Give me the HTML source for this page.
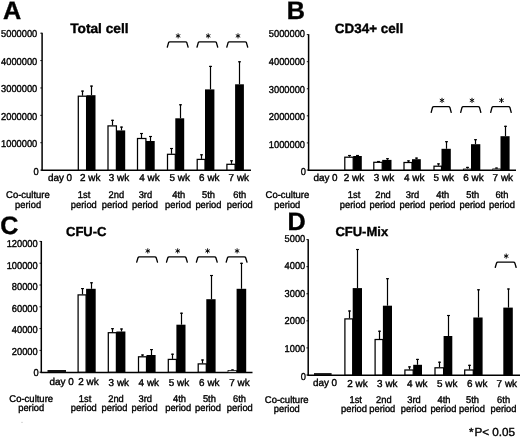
<!DOCTYPE html>
<html><head><meta charset="utf-8"><title>Figure</title>
<style>
html,body{margin:0;padding:0;background:#fff;}
body{width:520px;height:437px;overflow:hidden;}
svg{display:block;filter:grayscale(1);font-family:"Liberation Sans",sans-serif;fill:#000;}
text{stroke:#000;stroke-width:0.38px;text-rendering:geometricPrecision;}
</style></head><body>
<svg width="520" height="437" viewBox="0 0 520 437">
<g>
<rect x="0" y="0" width="520" height="437" fill="#fff"/>
<line x1="42.10" y1="32.80" x2="42.10" y2="170.70" stroke="#000" stroke-width="1.5"/>
<line x1="41.40" y1="170.30" x2="251.00" y2="170.30" stroke="#000" stroke-width="1.5"/>
<line x1="40.30" y1="33.20" x2="42.00" y2="33.20" stroke="#000" stroke-width="0.9"/>
<text transform="translate(37.30,36.98) scale(0.9300,1)" font-size="10.0" text-anchor="end" font-weight="normal" >5000000</text>
<line x1="40.30" y1="60.58" x2="42.00" y2="60.58" stroke="#000" stroke-width="0.9"/>
<text transform="translate(37.30,64.60) scale(0.9300,1)" font-size="10.0" text-anchor="end" font-weight="normal" >4000000</text>
<line x1="40.30" y1="87.96" x2="42.00" y2="87.96" stroke="#000" stroke-width="0.9"/>
<text transform="translate(37.30,92.22) scale(0.9300,1)" font-size="10.0" text-anchor="end" font-weight="normal" >3000000</text>
<line x1="40.30" y1="115.34" x2="42.00" y2="115.34" stroke="#000" stroke-width="0.9"/>
<text transform="translate(37.30,119.84) scale(0.9300,1)" font-size="10.0" text-anchor="end" font-weight="normal" >2000000</text>
<line x1="40.30" y1="142.72" x2="42.00" y2="142.72" stroke="#000" stroke-width="0.9"/>
<text transform="translate(37.30,147.46) scale(0.9300,1)" font-size="10.0" text-anchor="end" font-weight="normal" >1000000</text>
<line x1="40.30" y1="170.10" x2="42.00" y2="170.10" stroke="#000" stroke-width="0.9"/>
<text transform="translate(38.60,175.08) scale(0.9300,1)" font-size="10.0" text-anchor="end" font-weight="normal" >0</text>
<text x="70.20" y="33.40" font-size="13.7" text-anchor="start" font-weight="bold" >Total cell</text>
<text x="3.10" y="18.50" font-size="25.2" text-anchor="start" font-weight="bold" >A</text>
<line x1="82.50" y1="90.60" x2="82.50" y2="95.70" stroke="#000" stroke-width="1.2"/>
<line x1="81.05" y1="91.10" x2="83.95" y2="91.10" stroke="#000" stroke-width="1.15"/>
<rect x="78.30" y="96.20" width="8.30" height="73.90" fill="#fff" stroke="#000" stroke-width="1.25"/>
<line x1="91.50" y1="85.60" x2="91.50" y2="95.20" stroke="#000" stroke-width="1.2"/>
<line x1="90.05" y1="86.10" x2="92.95" y2="86.10" stroke="#000" stroke-width="1.15"/>
<rect x="86.60" y="95.20" width="8.90" height="74.90" fill="#000"/>
<line x1="112.50" y1="119.80" x2="112.50" y2="125.40" stroke="#000" stroke-width="1.2"/>
<line x1="111.05" y1="120.30" x2="113.95" y2="120.30" stroke="#000" stroke-width="1.15"/>
<rect x="108.00" y="125.90" width="8.40" height="44.20" fill="#fff" stroke="#000" stroke-width="1.25"/>
<line x1="121.50" y1="126.60" x2="121.50" y2="130.40" stroke="#000" stroke-width="1.2"/>
<line x1="120.05" y1="127.10" x2="122.95" y2="127.10" stroke="#000" stroke-width="1.15"/>
<rect x="116.40" y="130.40" width="8.80" height="39.70" fill="#000"/>
<line x1="141.50" y1="133.00" x2="141.50" y2="138.00" stroke="#000" stroke-width="1.2"/>
<line x1="140.05" y1="133.50" x2="142.95" y2="133.50" stroke="#000" stroke-width="1.15"/>
<rect x="137.50" y="138.50" width="8.40" height="31.60" fill="#fff" stroke="#000" stroke-width="1.25"/>
<line x1="150.50" y1="136.00" x2="150.50" y2="141.00" stroke="#000" stroke-width="1.2"/>
<line x1="149.05" y1="136.50" x2="151.95" y2="136.50" stroke="#000" stroke-width="1.15"/>
<rect x="145.90" y="141.00" width="8.80" height="29.10" fill="#000"/>
<line x1="171.50" y1="148.00" x2="171.50" y2="153.80" stroke="#000" stroke-width="1.2"/>
<line x1="170.05" y1="148.50" x2="172.95" y2="148.50" stroke="#000" stroke-width="1.15"/>
<rect x="167.50" y="154.30" width="7.80" height="15.80" fill="#fff" stroke="#000" stroke-width="1.25"/>
<line x1="180.50" y1="104.30" x2="180.50" y2="118.30" stroke="#000" stroke-width="1.2"/>
<line x1="179.05" y1="104.80" x2="181.95" y2="104.80" stroke="#000" stroke-width="1.15"/>
<rect x="175.30" y="118.30" width="8.90" height="51.80" fill="#000"/>
<line x1="201.50" y1="154.30" x2="201.50" y2="158.90" stroke="#000" stroke-width="1.2"/>
<line x1="200.05" y1="154.80" x2="202.95" y2="154.80" stroke="#000" stroke-width="1.15"/>
<rect x="197.20" y="159.40" width="7.80" height="10.70" fill="#fff" stroke="#000" stroke-width="1.25"/>
<line x1="210.50" y1="65.90" x2="210.50" y2="89.40" stroke="#000" stroke-width="1.2"/>
<line x1="209.05" y1="66.40" x2="211.95" y2="66.40" stroke="#000" stroke-width="1.15"/>
<rect x="205.00" y="89.40" width="9.40" height="80.70" fill="#000"/>
<line x1="231.50" y1="160.30" x2="231.50" y2="163.80" stroke="#000" stroke-width="1.2"/>
<line x1="230.05" y1="160.80" x2="232.95" y2="160.80" stroke="#000" stroke-width="1.15"/>
<rect x="226.90" y="164.30" width="8.20" height="5.80" fill="#fff" stroke="#000" stroke-width="1.25"/>
<line x1="239.50" y1="61.30" x2="239.50" y2="84.30" stroke="#000" stroke-width="1.2"/>
<line x1="238.05" y1="61.80" x2="240.95" y2="61.80" stroke="#000" stroke-width="1.15"/>
<rect x="235.10" y="84.30" width="8.80" height="85.80" fill="#000"/>
<path d="M167.30,47.10 L168.60,42.60 Q168.90,41.80 169.90,41.80 L185.50,41.80 Q186.50,41.80 186.80,42.60 L188.10,47.10" fill="none" stroke="#000" stroke-width="1.35" stroke-linecap="round"/>
<path d="M197.00,47.10 L198.30,42.60 Q198.60,41.80 199.60,41.80 L215.10,41.80 Q216.10,41.80 216.40,42.60 L217.70,47.10" fill="none" stroke="#000" stroke-width="1.35" stroke-linecap="round"/>
<path d="M226.80,47.10 L228.10,42.60 Q228.40,41.80 229.40,41.80 L245.10,41.80 Q246.10,41.80 246.40,42.60 L247.70,47.10" fill="none" stroke="#000" stroke-width="1.35" stroke-linecap="round"/>
<path d="M178.10,33.35L178.10,38.45 M175.89,34.62L180.31,37.17 M180.31,34.62L175.89,37.17" fill="none" stroke="#000" stroke-width="0.95"/>
<path d="M208.20,33.35L208.20,38.45 M205.99,34.62L210.41,37.17 M210.41,34.62L205.99,37.17" fill="none" stroke="#000" stroke-width="0.95"/>
<path d="M238.00,33.35L238.00,38.45 M235.79,34.62L240.21,37.17 M240.21,34.62L235.79,37.17" fill="none" stroke="#000" stroke-width="0.95"/>
<text transform="translate(60.00,180.50) scale(0.9900,1)" font-size="10.0" text-anchor="middle" font-weight="normal" >day 0</text>
<text transform="translate(90.20,180.50) scale(0.9900,1)" font-size="10.0" text-anchor="middle" font-weight="normal" >2 wk</text>
<text transform="translate(119.00,180.50) scale(0.9900,1)" font-size="10.0" text-anchor="middle" font-weight="normal" >3 wk</text>
<text transform="translate(149.40,180.50) scale(0.9900,1)" font-size="10.0" text-anchor="middle" font-weight="normal" >4 wk</text>
<text transform="translate(179.70,180.50) scale(0.9900,1)" font-size="10.0" text-anchor="middle" font-weight="normal" >5 wk</text>
<text transform="translate(209.30,180.50) scale(0.9900,1)" font-size="10.0" text-anchor="middle" font-weight="normal" >6 wk</text>
<text transform="translate(238.80,180.50) scale(0.9900,1)" font-size="10.0" text-anchor="middle" font-weight="normal" >7 wk</text>
<text transform="translate(27.90,197.90) scale(0.9680,1)" font-size="9.8" text-anchor="middle" font-weight="normal" >Co-culture</text>
<text transform="translate(28.10,207.70) scale(0.9540,1)" font-size="9.8" text-anchor="middle" font-weight="normal" >period</text>
<text transform="translate(84.10,197.90) scale(0.9540,1)" font-size="9.8" text-anchor="middle" font-weight="normal" >1st</text>
<text transform="translate(83.80,207.70) scale(0.9540,1)" font-size="9.8" text-anchor="middle" font-weight="normal" >period</text>
<text transform="translate(116.30,197.90) scale(0.9540,1)" font-size="9.8" text-anchor="middle" font-weight="normal" >2nd</text>
<text transform="translate(114.80,207.70) scale(0.9540,1)" font-size="9.8" text-anchor="middle" font-weight="normal" >period</text>
<text transform="translate(145.40,197.90) scale(0.9540,1)" font-size="9.8" text-anchor="middle" font-weight="normal" >3rd</text>
<text transform="translate(145.00,207.70) scale(0.9540,1)" font-size="9.8" text-anchor="middle" font-weight="normal" >period</text>
<text transform="translate(178.80,197.90) scale(0.9540,1)" font-size="9.8" text-anchor="middle" font-weight="normal" >4th</text>
<text transform="translate(178.10,207.70) scale(0.9540,1)" font-size="9.8" text-anchor="middle" font-weight="normal" >period</text>
<text transform="translate(208.50,197.90) scale(0.9540,1)" font-size="9.8" text-anchor="middle" font-weight="normal" >5th</text>
<text transform="translate(208.40,207.70) scale(0.9540,1)" font-size="9.8" text-anchor="middle" font-weight="normal" >period</text>
<text transform="translate(239.80,197.90) scale(0.9540,1)" font-size="9.8" text-anchor="middle" font-weight="normal" >6th</text>
<text transform="translate(239.80,207.70) scale(0.9540,1)" font-size="9.8" text-anchor="middle" font-weight="normal" >period</text>
<line x1="308.60" y1="34.20" x2="308.60" y2="170.60" stroke="#000" stroke-width="1.5"/>
<line x1="307.90" y1="170.20" x2="516.00" y2="170.20" stroke="#000" stroke-width="1.5"/>
<line x1="306.80" y1="34.60" x2="308.50" y2="34.60" stroke="#000" stroke-width="0.9"/>
<text transform="translate(305.00,37.28) scale(0.9300,1)" font-size="10.0" text-anchor="end" font-weight="normal" >5000000</text>
<line x1="306.80" y1="61.68" x2="308.50" y2="61.68" stroke="#000" stroke-width="0.9"/>
<text transform="translate(305.00,64.90) scale(0.9300,1)" font-size="10.0" text-anchor="end" font-weight="normal" >4000000</text>
<line x1="306.80" y1="88.76" x2="308.50" y2="88.76" stroke="#000" stroke-width="0.9"/>
<text transform="translate(305.00,92.52) scale(0.9300,1)" font-size="10.0" text-anchor="end" font-weight="normal" >3000000</text>
<line x1="306.80" y1="115.84" x2="308.50" y2="115.84" stroke="#000" stroke-width="0.9"/>
<text transform="translate(305.00,120.14) scale(0.9300,1)" font-size="10.0" text-anchor="end" font-weight="normal" >2000000</text>
<line x1="306.80" y1="142.92" x2="308.50" y2="142.92" stroke="#000" stroke-width="0.9"/>
<text transform="translate(305.00,147.76) scale(0.9300,1)" font-size="10.0" text-anchor="end" font-weight="normal" >1000000</text>
<line x1="306.80" y1="170.00" x2="308.50" y2="170.00" stroke="#000" stroke-width="0.9"/>
<text transform="translate(306.00,175.38) scale(0.9300,1)" font-size="10.0" text-anchor="end" font-weight="normal" >0</text>
<text x="334.80" y="33.10" font-size="13.45" text-anchor="start" font-weight="bold" >CD34+ cell</text>
<text x="286.80" y="19.00" font-size="25.2" text-anchor="start" font-weight="bold" >B</text>
<line x1="349.50" y1="155.00" x2="349.50" y2="156.70" stroke="#000" stroke-width="1.2"/>
<line x1="348.05" y1="155.50" x2="350.95" y2="155.50" stroke="#000" stroke-width="1.15"/>
<rect x="344.80" y="157.20" width="8.40" height="12.80" fill="#fff" stroke="#000" stroke-width="1.25"/>
<line x1="357.50" y1="155.00" x2="357.50" y2="156.00" stroke="#000" stroke-width="1.2"/>
<line x1="356.05" y1="155.50" x2="358.95" y2="155.50" stroke="#000" stroke-width="1.15"/>
<rect x="353.20" y="156.00" width="8.60" height="14.00" fill="#000"/>
<line x1="378.50" y1="161.00" x2="378.50" y2="161.80" stroke="#000" stroke-width="1.2"/>
<line x1="377.05" y1="161.50" x2="379.95" y2="161.50" stroke="#000" stroke-width="1.15"/>
<rect x="373.80" y="162.30" width="8.40" height="7.70" fill="#fff" stroke="#000" stroke-width="1.25"/>
<line x1="387.50" y1="158.20" x2="387.50" y2="159.90" stroke="#000" stroke-width="1.2"/>
<line x1="386.05" y1="158.70" x2="388.95" y2="158.70" stroke="#000" stroke-width="1.15"/>
<rect x="382.20" y="159.90" width="9.30" height="10.10" fill="#000"/>
<line x1="408.50" y1="160.40" x2="408.50" y2="162.00" stroke="#000" stroke-width="1.2"/>
<line x1="407.05" y1="160.90" x2="409.95" y2="160.90" stroke="#000" stroke-width="1.15"/>
<rect x="404.00" y="162.50" width="8.00" height="7.50" fill="#fff" stroke="#000" stroke-width="1.25"/>
<line x1="416.50" y1="157.60" x2="416.50" y2="159.20" stroke="#000" stroke-width="1.2"/>
<line x1="415.05" y1="158.10" x2="417.95" y2="158.10" stroke="#000" stroke-width="1.15"/>
<rect x="412.00" y="159.20" width="8.80" height="10.80" fill="#000"/>
<line x1="438.50" y1="163.40" x2="438.50" y2="165.70" stroke="#000" stroke-width="1.2"/>
<line x1="437.05" y1="163.90" x2="439.95" y2="163.90" stroke="#000" stroke-width="1.15"/>
<rect x="434.00" y="166.20" width="7.50" height="3.80" fill="#fff" stroke="#000" stroke-width="1.25"/>
<line x1="446.50" y1="141.20" x2="446.50" y2="148.80" stroke="#000" stroke-width="1.2"/>
<line x1="445.05" y1="141.70" x2="447.95" y2="141.70" stroke="#000" stroke-width="1.15"/>
<rect x="441.50" y="148.80" width="9.30" height="21.20" fill="#000"/>
<line x1="467.50" y1="166.90" x2="467.50" y2="168.50" stroke="#000" stroke-width="1.2"/>
<line x1="466.05" y1="167.40" x2="468.95" y2="167.40" stroke="#000" stroke-width="1.15"/>
<rect x="463.30" y="169.00" width="7.70" height="1.00" fill="#fff" stroke="#000" stroke-width="0.75"/>
<line x1="475.50" y1="139.20" x2="475.50" y2="144.20" stroke="#000" stroke-width="1.2"/>
<line x1="474.05" y1="139.70" x2="476.95" y2="139.70" stroke="#000" stroke-width="1.15"/>
<rect x="471.00" y="144.20" width="9.30" height="25.80" fill="#000"/>
<line x1="496.50" y1="167.60" x2="496.50" y2="168.40" stroke="#000" stroke-width="1.2"/>
<line x1="495.05" y1="168.10" x2="497.95" y2="168.10" stroke="#000" stroke-width="1.15"/>
<rect x="492.70" y="168.90" width="7.80" height="1.10" fill="#fff" stroke="#000" stroke-width="0.75"/>
<line x1="505.50" y1="125.80" x2="505.50" y2="136.20" stroke="#000" stroke-width="1.2"/>
<line x1="504.05" y1="126.30" x2="506.95" y2="126.30" stroke="#000" stroke-width="1.15"/>
<rect x="500.50" y="136.20" width="9.10" height="33.80" fill="#000"/>
<path d="M431.20,112.40 L432.50,107.40 Q432.80,106.60 433.80,106.60 L448.60,106.60 Q449.60,106.60 449.90,107.40 L451.20,112.40" fill="none" stroke="#000" stroke-width="1.35" stroke-linecap="round"/>
<path d="M460.70,112.40 L462.00,107.40 Q462.30,106.60 463.30,106.60 L478.20,106.60 Q479.20,106.60 479.50,107.40 L480.80,112.40" fill="none" stroke="#000" stroke-width="1.35" stroke-linecap="round"/>
<path d="M490.70,112.40 L492.00,107.40 Q492.30,106.60 493.30,106.60 L508.60,106.60 Q509.60,106.60 509.90,107.40 L511.20,112.40" fill="none" stroke="#000" stroke-width="1.35" stroke-linecap="round"/>
<path d="M442.00,97.85L442.00,102.95 M439.79,99.12L444.21,101.68 M444.21,99.12L439.79,101.68" fill="none" stroke="#000" stroke-width="0.95"/>
<path d="M472.00,97.85L472.00,102.95 M469.79,99.12L474.21,101.68 M474.21,99.12L469.79,101.68" fill="none" stroke="#000" stroke-width="0.95"/>
<path d="M501.50,97.85L501.50,102.95 M499.29,99.12L503.71,101.68 M503.71,99.12L499.29,101.68" fill="none" stroke="#000" stroke-width="0.95"/>
<text transform="translate(325.50,180.80) scale(0.9900,1)" font-size="10.0" text-anchor="middle" font-weight="normal" >day 0</text>
<text transform="translate(354.00,180.80) scale(0.9900,1)" font-size="10.0" text-anchor="middle" font-weight="normal" >2 wk</text>
<text transform="translate(384.00,180.80) scale(0.9900,1)" font-size="10.0" text-anchor="middle" font-weight="normal" >3 wk</text>
<text transform="translate(414.20,180.80) scale(0.9900,1)" font-size="10.0" text-anchor="middle" font-weight="normal" >4 wk</text>
<text transform="translate(443.80,180.80) scale(0.9900,1)" font-size="10.0" text-anchor="middle" font-weight="normal" >5 wk</text>
<text transform="translate(473.40,180.80) scale(0.9900,1)" font-size="10.0" text-anchor="middle" font-weight="normal" >6 wk</text>
<text transform="translate(502.80,180.80) scale(0.9900,1)" font-size="10.0" text-anchor="middle" font-weight="normal" >7 wk</text>
<text transform="translate(287.40,197.90) scale(0.9680,1)" font-size="9.8" text-anchor="middle" font-weight="normal" >Co-culture</text>
<text transform="translate(287.30,207.70) scale(0.9540,1)" font-size="9.8" text-anchor="middle" font-weight="normal" >period</text>
<text transform="translate(354.00,197.90) scale(0.9540,1)" font-size="9.8" text-anchor="middle" font-weight="normal" >1st</text>
<text transform="translate(352.80,207.70) scale(0.9540,1)" font-size="9.8" text-anchor="middle" font-weight="normal" >period</text>
<text transform="translate(383.00,197.90) scale(0.9540,1)" font-size="9.8" text-anchor="middle" font-weight="normal" >2nd</text>
<text transform="translate(382.50,207.70) scale(0.9540,1)" font-size="9.8" text-anchor="middle" font-weight="normal" >period</text>
<text transform="translate(412.50,197.90) scale(0.9540,1)" font-size="9.8" text-anchor="middle" font-weight="normal" >3rd</text>
<text transform="translate(412.50,207.70) scale(0.9540,1)" font-size="9.8" text-anchor="middle" font-weight="normal" >period</text>
<text transform="translate(442.80,197.90) scale(0.9540,1)" font-size="9.8" text-anchor="middle" font-weight="normal" >4th</text>
<text transform="translate(442.50,207.70) scale(0.9540,1)" font-size="9.8" text-anchor="middle" font-weight="normal" >period</text>
<text transform="translate(472.80,197.90) scale(0.9540,1)" font-size="9.8" text-anchor="middle" font-weight="normal" >5th</text>
<text transform="translate(472.50,207.70) scale(0.9540,1)" font-size="9.8" text-anchor="middle" font-weight="normal" >period</text>
<text transform="translate(501.90,197.90) scale(0.9540,1)" font-size="9.8" text-anchor="middle" font-weight="normal" >6th</text>
<text transform="translate(502.00,207.70) scale(0.9540,1)" font-size="9.8" text-anchor="middle" font-weight="normal" >period</text>
<line x1="41.30" y1="241.00" x2="41.30" y2="372.80" stroke="#000" stroke-width="1.5"/>
<line x1="40.60" y1="372.40" x2="252.50" y2="372.40" stroke="#000" stroke-width="1.5"/>
<line x1="39.50" y1="241.40" x2="41.20" y2="241.40" stroke="#000" stroke-width="0.9"/>
<text transform="translate(37.70,247.38) scale(0.9300,1)" font-size="10.0" text-anchor="end" font-weight="normal" >120000</text>
<line x1="39.50" y1="263.20" x2="41.20" y2="263.20" stroke="#000" stroke-width="0.9"/>
<text transform="translate(37.70,268.88) scale(0.9300,1)" font-size="10.0" text-anchor="end" font-weight="normal" >100000</text>
<line x1="39.50" y1="285.00" x2="41.20" y2="285.00" stroke="#000" stroke-width="0.9"/>
<text transform="translate(37.70,290.38) scale(0.9300,1)" font-size="10.0" text-anchor="end" font-weight="normal" >80000</text>
<line x1="39.50" y1="306.80" x2="41.20" y2="306.80" stroke="#000" stroke-width="0.9"/>
<text transform="translate(37.70,311.88) scale(0.9300,1)" font-size="10.0" text-anchor="end" font-weight="normal" >60000</text>
<line x1="39.50" y1="328.60" x2="41.20" y2="328.60" stroke="#000" stroke-width="0.9"/>
<text transform="translate(37.70,333.38) scale(0.9300,1)" font-size="10.0" text-anchor="end" font-weight="normal" >40000</text>
<line x1="39.50" y1="350.40" x2="41.20" y2="350.40" stroke="#000" stroke-width="0.9"/>
<text transform="translate(37.70,354.88) scale(0.9300,1)" font-size="10.0" text-anchor="end" font-weight="normal" >20000</text>
<line x1="39.50" y1="372.20" x2="41.20" y2="372.20" stroke="#000" stroke-width="0.9"/>
<text transform="translate(38.60,376.38) scale(0.9300,1)" font-size="10.0" text-anchor="end" font-weight="normal" >0</text>
<text x="66.00" y="236.00" font-size="13.0" text-anchor="start" font-weight="bold" >CFU-C</text>
<text x="0.20" y="233.70" font-size="25.2" text-anchor="start" font-weight="bold" >C</text>
<line x1="82.50" y1="288.10" x2="82.50" y2="294.40" stroke="#000" stroke-width="1.2"/>
<line x1="81.05" y1="288.60" x2="83.95" y2="288.60" stroke="#000" stroke-width="1.15"/>
<rect x="78.10" y="294.90" width="8.00" height="77.30" fill="#fff" stroke="#000" stroke-width="1.25"/>
<line x1="91.50" y1="282.30" x2="91.50" y2="288.80" stroke="#000" stroke-width="1.2"/>
<line x1="90.05" y1="282.80" x2="92.95" y2="282.80" stroke="#000" stroke-width="1.15"/>
<rect x="86.10" y="288.80" width="9.60" height="83.40" fill="#000"/>
<line x1="112.50" y1="328.20" x2="112.50" y2="332.20" stroke="#000" stroke-width="1.2"/>
<line x1="111.05" y1="328.70" x2="113.95" y2="328.70" stroke="#000" stroke-width="1.15"/>
<rect x="108.30" y="332.70" width="8.10" height="39.50" fill="#fff" stroke="#000" stroke-width="1.25"/>
<line x1="121.50" y1="328.50" x2="121.50" y2="331.50" stroke="#000" stroke-width="1.2"/>
<line x1="120.05" y1="329.00" x2="122.95" y2="329.00" stroke="#000" stroke-width="1.15"/>
<rect x="116.40" y="331.50" width="9.00" height="40.70" fill="#000"/>
<line x1="142.50" y1="354.50" x2="142.50" y2="356.30" stroke="#000" stroke-width="1.2"/>
<line x1="141.05" y1="355.00" x2="143.95" y2="355.00" stroke="#000" stroke-width="1.15"/>
<rect x="138.50" y="356.80" width="8.00" height="15.40" fill="#fff" stroke="#000" stroke-width="1.25"/>
<line x1="151.50" y1="349.10" x2="151.50" y2="355.00" stroke="#000" stroke-width="1.2"/>
<line x1="150.05" y1="349.60" x2="152.95" y2="349.60" stroke="#000" stroke-width="1.15"/>
<rect x="146.50" y="355.00" width="9.10" height="17.20" fill="#000"/>
<line x1="172.50" y1="353.70" x2="172.50" y2="358.90" stroke="#000" stroke-width="1.2"/>
<line x1="171.05" y1="354.20" x2="173.95" y2="354.20" stroke="#000" stroke-width="1.15"/>
<rect x="168.30" y="359.40" width="8.10" height="12.80" fill="#fff" stroke="#000" stroke-width="1.25"/>
<line x1="181.50" y1="312.70" x2="181.50" y2="324.70" stroke="#000" stroke-width="1.2"/>
<line x1="180.05" y1="313.20" x2="182.95" y2="313.20" stroke="#000" stroke-width="1.15"/>
<rect x="176.40" y="324.70" width="9.10" height="47.50" fill="#000"/>
<line x1="202.50" y1="359.50" x2="202.50" y2="363.40" stroke="#000" stroke-width="1.2"/>
<line x1="201.05" y1="360.00" x2="203.95" y2="360.00" stroke="#000" stroke-width="1.15"/>
<rect x="198.20" y="363.90" width="8.10" height="8.30" fill="#fff" stroke="#000" stroke-width="1.25"/>
<line x1="211.50" y1="275.00" x2="211.50" y2="299.20" stroke="#000" stroke-width="1.2"/>
<line x1="210.05" y1="275.50" x2="212.95" y2="275.50" stroke="#000" stroke-width="1.15"/>
<rect x="206.30" y="299.20" width="9.30" height="73.00" fill="#000"/>
<line x1="232.50" y1="369.50" x2="232.50" y2="370.10" stroke="#000" stroke-width="1.2"/>
<line x1="231.05" y1="370.00" x2="233.95" y2="370.00" stroke="#000" stroke-width="1.15"/>
<rect x="228.00" y="370.60" width="8.60" height="1.60" fill="#fff" stroke="#000" stroke-width="0.75"/>
<line x1="241.50" y1="262.80" x2="241.50" y2="288.80" stroke="#000" stroke-width="1.2"/>
<line x1="240.05" y1="263.30" x2="242.95" y2="263.30" stroke="#000" stroke-width="1.15"/>
<rect x="236.60" y="288.80" width="9.60" height="83.40" fill="#000"/>
<rect x="47.50" y="370.00" width="18.50" height="2.20" fill="#111"/>
<path d="M136.70,262.10 L138.00,257.70 Q138.30,256.90 139.30,256.90 L154.90,256.90 Q155.90,256.90 156.20,257.70 L157.50,262.10" fill="none" stroke="#000" stroke-width="1.35" stroke-linecap="round"/>
<path d="M166.50,262.10 L167.80,257.70 Q168.10,256.90 169.10,256.90 L184.70,256.90 Q185.70,256.90 186.00,257.70 L187.30,262.10" fill="none" stroke="#000" stroke-width="1.35" stroke-linecap="round"/>
<path d="M196.40,262.10 L197.70,257.70 Q198.00,256.90 199.00,256.90 L214.60,256.90 Q215.60,256.90 215.90,257.70 L217.20,262.10" fill="none" stroke="#000" stroke-width="1.35" stroke-linecap="round"/>
<path d="M226.20,262.10 L227.50,257.70 Q227.80,256.90 228.80,256.90 L244.40,256.90 Q245.40,256.90 245.70,257.70 L247.00,262.10" fill="none" stroke="#000" stroke-width="1.35" stroke-linecap="round"/>
<path d="M147.80,248.35L147.80,253.45 M145.59,249.62L150.01,252.18 M150.01,249.62L145.59,252.18" fill="none" stroke="#000" stroke-width="0.95"/>
<path d="M177.70,248.35L177.70,253.45 M175.49,249.62L179.91,252.18 M179.91,249.62L175.49,252.18" fill="none" stroke="#000" stroke-width="0.95"/>
<path d="M207.60,248.35L207.60,253.45 M205.39,249.62L209.81,252.18 M209.81,249.62L205.39,252.18" fill="none" stroke="#000" stroke-width="0.95"/>
<path d="M237.10,248.35L237.10,253.45 M234.89,249.62L239.31,252.18 M239.31,249.62L234.89,252.18" fill="none" stroke="#000" stroke-width="0.95"/>
<text transform="translate(61.70,384.50) scale(0.9900,1)" font-size="10.0" text-anchor="middle" font-weight="normal" >day 0</text>
<text transform="translate(88.50,384.50) scale(0.9900,1)" font-size="10.0" text-anchor="middle" font-weight="normal" >2 wk</text>
<text transform="translate(118.80,386.20) scale(0.9900,1)" font-size="10.0" text-anchor="middle" font-weight="normal" >3 wk</text>
<text transform="translate(148.80,386.20) scale(0.9900,1)" font-size="10.0" text-anchor="middle" font-weight="normal" >4 wk</text>
<text transform="translate(178.90,386.20) scale(0.9900,1)" font-size="10.0" text-anchor="middle" font-weight="normal" >5 wk</text>
<text transform="translate(209.30,386.20) scale(0.9900,1)" font-size="10.0" text-anchor="middle" font-weight="normal" >6 wk</text>
<text transform="translate(239.40,386.20) scale(0.9900,1)" font-size="10.0" text-anchor="middle" font-weight="normal" >7 wk</text>
<text transform="translate(31.20,401.90) scale(0.9680,1)" font-size="9.8" text-anchor="middle" font-weight="normal" >Co-culture</text>
<text transform="translate(31.20,410.60) scale(0.9540,1)" font-size="9.8" text-anchor="middle" font-weight="normal" >period</text>
<text transform="translate(85.10,401.90) scale(0.9540,1)" font-size="9.8" text-anchor="middle" font-weight="normal" >1st</text>
<text transform="translate(83.80,410.60) scale(0.9540,1)" font-size="9.8" text-anchor="middle" font-weight="normal" >period</text>
<text transform="translate(116.00,401.90) scale(0.9540,1)" font-size="9.8" text-anchor="middle" font-weight="normal" >2nd</text>
<text transform="translate(114.50,410.60) scale(0.9540,1)" font-size="9.8" text-anchor="middle" font-weight="normal" >period</text>
<text transform="translate(145.30,401.90) scale(0.9540,1)" font-size="9.8" text-anchor="middle" font-weight="normal" >3rd</text>
<text transform="translate(144.60,410.60) scale(0.9540,1)" font-size="9.8" text-anchor="middle" font-weight="normal" >period</text>
<text transform="translate(179.50,401.90) scale(0.9540,1)" font-size="9.8" text-anchor="middle" font-weight="normal" >4th</text>
<text transform="translate(178.20,410.60) scale(0.9540,1)" font-size="9.8" text-anchor="middle" font-weight="normal" >period</text>
<text transform="translate(209.40,401.90) scale(0.9540,1)" font-size="9.8" text-anchor="middle" font-weight="normal" >5th</text>
<text transform="translate(208.00,410.60) scale(0.9540,1)" font-size="9.8" text-anchor="middle" font-weight="normal" >period</text>
<text transform="translate(239.50,401.90) scale(0.9540,1)" font-size="9.8" text-anchor="middle" font-weight="normal" >6th</text>
<text transform="translate(239.80,410.60) scale(0.9540,1)" font-size="9.8" text-anchor="middle" font-weight="normal" >period</text>
<line x1="308.20" y1="239.20" x2="308.20" y2="375.60" stroke="#000" stroke-width="1.5"/>
<line x1="307.50" y1="375.20" x2="520.00" y2="375.20" stroke="#000" stroke-width="1.5"/>
<line x1="306.40" y1="239.60" x2="308.10" y2="239.60" stroke="#000" stroke-width="0.9"/>
<text transform="translate(305.30,241.78) scale(0.9300,1)" font-size="10.0" text-anchor="end" font-weight="normal" >5000</text>
<line x1="306.40" y1="266.68" x2="308.10" y2="266.68" stroke="#000" stroke-width="0.9"/>
<text transform="translate(305.30,269.33) scale(0.9300,1)" font-size="10.0" text-anchor="end" font-weight="normal" >4000</text>
<line x1="306.40" y1="293.76" x2="308.10" y2="293.76" stroke="#000" stroke-width="0.9"/>
<text transform="translate(305.30,296.88) scale(0.9300,1)" font-size="10.0" text-anchor="end" font-weight="normal" >3000</text>
<line x1="306.40" y1="320.84" x2="308.10" y2="320.84" stroke="#000" stroke-width="0.9"/>
<text transform="translate(305.30,324.43) scale(0.9300,1)" font-size="10.0" text-anchor="end" font-weight="normal" >2000</text>
<line x1="306.40" y1="347.92" x2="308.10" y2="347.92" stroke="#000" stroke-width="0.9"/>
<text transform="translate(305.30,351.98) scale(0.9300,1)" font-size="10.0" text-anchor="end" font-weight="normal" >1000</text>
<line x1="306.40" y1="375.00" x2="308.10" y2="375.00" stroke="#000" stroke-width="0.9"/>
<text transform="translate(305.80,379.53) scale(0.9300,1)" font-size="10.0" text-anchor="end" font-weight="normal" >0</text>
<text x="335.40" y="236.00" font-size="13.0" text-anchor="start" font-weight="bold" >CFU-Mix</text>
<text x="287.60" y="229.50" font-size="25.2" text-anchor="start" font-weight="bold" >D</text>
<line x1="349.50" y1="310.50" x2="349.50" y2="318.40" stroke="#000" stroke-width="1.2"/>
<line x1="348.05" y1="311.00" x2="350.95" y2="311.00" stroke="#000" stroke-width="1.15"/>
<rect x="344.90" y="318.90" width="7.80" height="56.10" fill="#fff" stroke="#000" stroke-width="1.25"/>
<line x1="357.50" y1="249.00" x2="357.50" y2="288.10" stroke="#000" stroke-width="1.2"/>
<line x1="356.05" y1="249.50" x2="358.95" y2="249.50" stroke="#000" stroke-width="1.15"/>
<rect x="352.70" y="288.10" width="9.30" height="86.90" fill="#000"/>
<line x1="379.50" y1="330.70" x2="379.50" y2="339.00" stroke="#000" stroke-width="1.2"/>
<line x1="378.05" y1="331.20" x2="380.95" y2="331.20" stroke="#000" stroke-width="1.15"/>
<rect x="375.10" y="339.50" width="7.80" height="35.50" fill="#fff" stroke="#000" stroke-width="1.25"/>
<line x1="387.50" y1="278.20" x2="387.50" y2="305.70" stroke="#000" stroke-width="1.2"/>
<line x1="386.05" y1="278.70" x2="388.95" y2="278.70" stroke="#000" stroke-width="1.15"/>
<rect x="382.90" y="305.70" width="9.10" height="69.30" fill="#000"/>
<line x1="409.50" y1="366.40" x2="409.50" y2="369.50" stroke="#000" stroke-width="1.2"/>
<line x1="408.05" y1="366.90" x2="410.95" y2="366.90" stroke="#000" stroke-width="1.15"/>
<rect x="404.90" y="370.00" width="8.30" height="5.00" fill="#fff" stroke="#000" stroke-width="1.25"/>
<line x1="417.50" y1="358.90" x2="417.50" y2="364.80" stroke="#000" stroke-width="1.2"/>
<line x1="416.05" y1="359.40" x2="418.95" y2="359.40" stroke="#000" stroke-width="1.15"/>
<rect x="413.20" y="364.80" width="8.80" height="10.20" fill="#000"/>
<line x1="439.50" y1="361.70" x2="439.50" y2="367.30" stroke="#000" stroke-width="1.2"/>
<line x1="438.05" y1="362.20" x2="440.95" y2="362.20" stroke="#000" stroke-width="1.15"/>
<rect x="435.00" y="367.80" width="8.60" height="7.20" fill="#fff" stroke="#000" stroke-width="1.25"/>
<line x1="448.50" y1="315.00" x2="448.50" y2="336.00" stroke="#000" stroke-width="1.2"/>
<line x1="447.05" y1="315.50" x2="449.95" y2="315.50" stroke="#000" stroke-width="1.15"/>
<rect x="443.60" y="336.00" width="8.70" height="39.00" fill="#000"/>
<line x1="469.50" y1="364.80" x2="469.50" y2="369.50" stroke="#000" stroke-width="1.2"/>
<line x1="468.05" y1="365.30" x2="470.95" y2="365.30" stroke="#000" stroke-width="1.15"/>
<rect x="464.70" y="370.00" width="8.60" height="5.00" fill="#fff" stroke="#000" stroke-width="1.25"/>
<line x1="478.50" y1="289.30" x2="478.50" y2="317.50" stroke="#000" stroke-width="1.2"/>
<line x1="477.05" y1="289.80" x2="479.95" y2="289.80" stroke="#000" stroke-width="1.15"/>
<rect x="473.30" y="317.50" width="9.30" height="57.50" fill="#000"/>
<line x1="508.50" y1="288.50" x2="508.50" y2="307.60" stroke="#000" stroke-width="1.2"/>
<line x1="507.05" y1="289.00" x2="509.95" y2="289.00" stroke="#000" stroke-width="1.15"/>
<rect x="503.30" y="307.60" width="9.50" height="67.40" fill="#000"/>
<rect x="314.00" y="373.10" width="17.60" height="1.90" fill="#111"/>
<path d="M495.30,267.30 L496.60,262.90 Q496.90,262.10 497.90,262.10 L513.50,262.10 Q514.50,262.10 514.80,262.90 L516.10,267.30" fill="none" stroke="#000" stroke-width="1.35" stroke-linecap="round"/>
<path d="M506.20,253.55L506.20,258.65 M503.99,254.83L508.41,257.38 M508.41,254.83L503.99,257.38" fill="none" stroke="#000" stroke-width="0.95"/>
<text transform="translate(325.00,386.20) scale(0.9900,1)" font-size="10.0" text-anchor="middle" font-weight="normal" >day 0</text>
<text transform="translate(357.50,387.20) scale(0.9900,1)" font-size="10.0" text-anchor="middle" font-weight="normal" >2 wk</text>
<text transform="translate(387.30,387.20) scale(0.9900,1)" font-size="10.0" text-anchor="middle" font-weight="normal" >3 wk</text>
<text transform="translate(417.30,387.20) scale(0.9900,1)" font-size="10.0" text-anchor="middle" font-weight="normal" >4 wk</text>
<text transform="translate(447.20,387.20) scale(0.9900,1)" font-size="10.0" text-anchor="middle" font-weight="normal" >5 wk</text>
<text transform="translate(477.20,387.20) scale(0.9900,1)" font-size="10.0" text-anchor="middle" font-weight="normal" >6 wk</text>
<text transform="translate(506.80,387.20) scale(0.9900,1)" font-size="10.0" text-anchor="middle" font-weight="normal" >7 wk</text>
<text transform="translate(286.70,402.60) scale(0.9680,1)" font-size="9.8" text-anchor="middle" font-weight="normal" >Co-culture</text>
<text transform="translate(286.80,411.50) scale(0.9540,1)" font-size="9.8" text-anchor="middle" font-weight="normal" >period</text>
<text transform="translate(355.70,402.60) scale(0.9540,1)" font-size="9.8" text-anchor="middle" font-weight="normal" >1st</text>
<text transform="translate(354.00,411.50) scale(0.9540,1)" font-size="9.8" text-anchor="middle" font-weight="normal" >period</text>
<text transform="translate(383.80,402.60) scale(0.9540,1)" font-size="9.8" text-anchor="middle" font-weight="normal" >2nd</text>
<text transform="translate(382.30,411.50) scale(0.9540,1)" font-size="9.8" text-anchor="middle" font-weight="normal" >period</text>
<text transform="translate(414.00,402.60) scale(0.9540,1)" font-size="9.8" text-anchor="middle" font-weight="normal" >3rd</text>
<text transform="translate(413.80,411.50) scale(0.9540,1)" font-size="9.8" text-anchor="middle" font-weight="normal" >period</text>
<text transform="translate(444.00,402.60) scale(0.9540,1)" font-size="9.8" text-anchor="middle" font-weight="normal" >4th</text>
<text transform="translate(443.40,411.50) scale(0.9540,1)" font-size="9.8" text-anchor="middle" font-weight="normal" >period</text>
<text transform="translate(472.50,402.60) scale(0.9540,1)" font-size="9.8" text-anchor="middle" font-weight="normal" >5th</text>
<text transform="translate(472.00,411.50) scale(0.9540,1)" font-size="9.8" text-anchor="middle" font-weight="normal" >period</text>
<text transform="translate(503.60,402.60) scale(0.9540,1)" font-size="9.8" text-anchor="middle" font-weight="normal" >6th</text>
<text transform="translate(503.50,411.50) scale(0.9540,1)" font-size="9.8" text-anchor="middle" font-weight="normal" >period</text>
<text x="469.00" y="435.50" font-size="11.7" text-anchor="start" font-weight="normal" >*<tspan dx="0.9">P&lt; 0.05</tspan></text>
<circle cx="22" cy="422.3" r="0.5" fill="#999"/>
</g>
</svg>
</body></html>
